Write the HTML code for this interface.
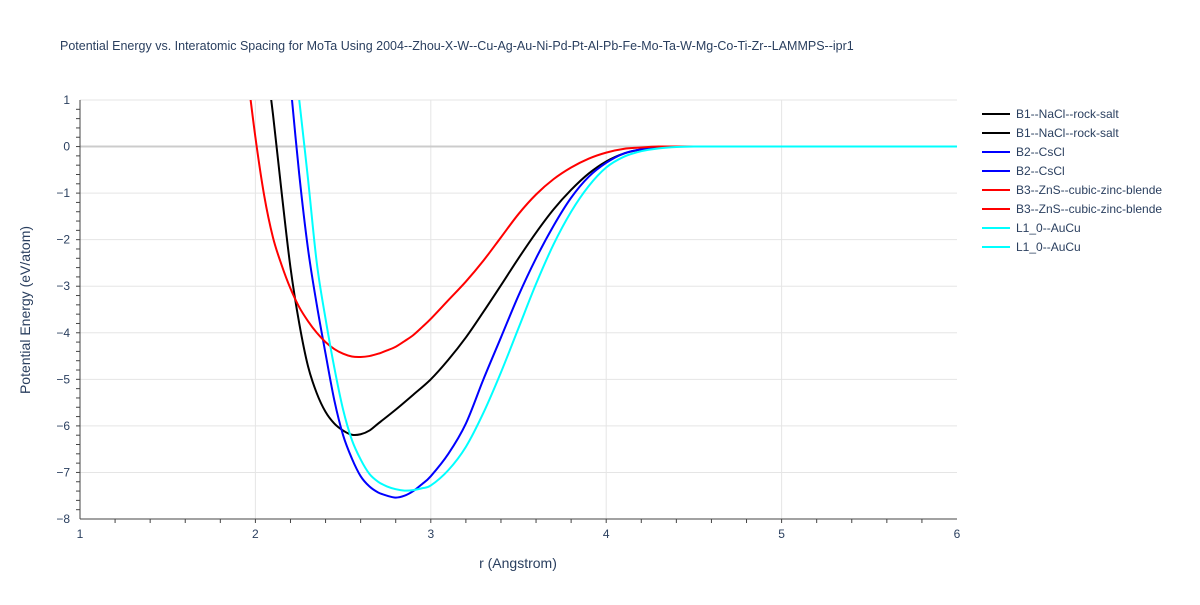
<!DOCTYPE html>
<html><head><meta charset="utf-8"><style>
body{margin:0;background:#fff;font-family:"Liberation Sans",sans-serif}
svg text{font-family:"Liberation Sans",sans-serif;fill:#2a3f5f}
</style></head><body>
<svg id="chart" width="1200" height="600" xmlns="http://www.w3.org/2000/svg">
<text x="60" y="50" font-size="12.5">Potential Energy vs. Interatomic Spacing for MoTa Using 2004--Zhou-X-W--Cu-Ag-Au-Ni-Pd-Pt-Al-Pb-Fe-Mo-Ta-W-Mg-Co-Ti-Zr--LAMMPS--ipr1</text>
<defs><clipPath id="clip"><rect x="80" y="100" width="877" height="419"/></clipPath></defs>
<g id="grid"></g><g id="axes"></g><g id="lines" clip-path="url(#clip)"></g><g id="legend"></g>
<text x="518" y="568" font-size="14" text-anchor="middle">r (Angstrom)</text>
<text transform="translate(30,310) rotate(-90)" font-size="14" text-anchor="middle">Potential Energy (eV/atom)</text>
</svg>
<script>
const xTicks=[1,2,3,4,5,6];
const yTicks=[1,0,-1,-2,-3,-4,-5,-6,-7,-8];
const seriesNames=["B1--NaCl--rock-salt","B2--CsCl","B3--ZnS--cubic-zinc-blende","L1_0--AuCu"];
const seriesColors=["#000000","#0000ff","#ff0000","#00ffff"];
const b1R=[2.05,2.1,2.15,2.2,2.25,2.3,2.35,2.4,2.45,2.5,2.55,2.6,2.65,2.7,2.8,2.9,3.0,3.1,3.2,3.3,3.4,3.5,3.6,3.7,3.8,3.9,4.0,4.1,4.2,4.3,4.4,4.5,4.6,4.7,4.8];
const b1E=[2.2,0.7,-1.0,-2.6,-3.8,-4.72,-5.3,-5.7,-5.95,-6.1,-6.19,-6.18,-6.1,-5.95,-5.65,-5.33,-5.0,-4.58,-4.1,-3.55,-2.98,-2.4,-1.85,-1.35,-0.93,-0.58,-0.32,-0.15,-0.06,-0.02,0,0,0,0,0];
const b2R=[2.2,2.25,2.3,2.35,2.4,2.45,2.5,2.55,2.6,2.65,2.7,2.75,2.8,2.85,2.9,2.95,3.0,3.1,3.2,3.3,3.4,3.5,3.6,3.7,3.8,3.9,4.0,4.1,4.2,4.3,4.4,4.5,4.6,4.7,4.8];
const b2E=[1.35,-0.6,-2.2,-3.4,-4.45,-5.45,-6.2,-6.7,-7.08,-7.3,-7.43,-7.5,-7.54,-7.5,-7.4,-7.25,-7.08,-6.6,-5.95,-5.0,-4.1,-3.2,-2.4,-1.7,-1.1,-0.65,-0.35,-0.15,-0.06,-0.02,0,0,0,0,0];
const b3R=[1.95,2.0,2.05,2.1,2.15,2.2,2.25,2.3,2.35,2.4,2.45,2.5,2.55,2.6,2.65,2.7,2.75,2.8,2.85,2.9,2.95,3.0,3.1,3.2,3.3,3.4,3.5,3.6,3.7,3.8,3.9,4.0,4.1,4.2,4.3,4.4,4.5,4.6,4.7];
const b3E=[1.7,0.2,-1.05,-1.95,-2.55,-3.05,-3.45,-3.75,-4.0,-4.2,-4.35,-4.45,-4.51,-4.52,-4.5,-4.45,-4.38,-4.3,-4.18,-4.05,-3.88,-3.7,-3.3,-2.9,-2.45,-1.95,-1.45,-1.03,-0.7,-0.45,-0.26,-0.13,-0.05,-0.02,0,0,0,0,0];
const l10R=[2.25,2.3,2.35,2.4,2.45,2.5,2.55,2.6,2.65,2.7,2.75,2.8,2.85,2.9,2.95,3.0,3.1,3.2,3.3,3.4,3.5,3.6,3.7,3.8,3.9,4.0,4.1,4.2,4.3,4.4,4.5,4.6,4.7,4.8];
const l10E=[1,-0.7,-2.5,-3.7,-4.75,-5.65,-6.3,-6.72,-7.03,-7.2,-7.3,-7.36,-7.39,-7.38,-7.34,-7.28,-6.95,-6.45,-5.72,-4.85,-3.9,-2.95,-2.1,-1.4,-0.85,-0.45,-0.22,-0.1,-0.04,-0.01,0,0,0,0];
const allR=[b1R,b2R,b3R,l10R], allE=[b1E,b2E,b3E,l10E];
const X=r=>80+(r-1)*(877/5), Y=e=>100+(1-e)*(419/9);
const NS="http://www.w3.org/2000/svg";
function mk(parent,tag,attrs){const el=document.createElementNS(NS,tag);for(const k in attrs)el.setAttribute(k,attrs[k]);document.getElementById(parent).appendChild(el);return el;}
xTicks.forEach(t=>{
 if(t>1&&t<6){const g=mk("grid","line",{x1:X(t),x2:X(t),y1:100,y2:519,stroke:"#e5e5e5"});
 
 }
 const l=mk("axes","text",{x:X(t),y:538,"font-size":12,"text-anchor":"middle"});l.textContent=t;
 
 
});
for(let v=1.2;v<6;v+=0.2){mk("axes","line",{x1:X(v),x2:X(v),y1:519,y2:523,stroke:"#444"});}
yTicks.forEach(t=>{
 const g=mk("grid","line",{x1:80,x2:957,y1:Y(t),y2:Y(t),stroke:t===0?"#ccc":"#e5e5e5","stroke-width":t===0?2:1});
 
 
 const l=mk("axes","text",{x:70,y:Y(t)+4,"font-size":12,"text-anchor":"end"});l.textContent=t===0?"0":(t<0?"\u2212"+(-t):t);
 
 
});
for(let v=0.8;v>-8;v-=0.2){mk("axes","line",{x1:76,x2:80,y1:Y(v),y2:Y(v),stroke:"#444"});}
mk("axes","line",{x1:80,x2:80,y1:100,y2:519,stroke:"#444"});
mk("axes","line",{x1:80,x2:957,y1:519,y2:519,stroke:"#444"});
function smooth(pts){
 let d="M"+pts[0][0]+","+pts[0][1];
 for(let i=0;i<pts.length-1;i++){
  const p0=pts[Math.max(0,i-1)],p1=pts[i],p2=pts[i+1],p3=pts[Math.min(pts.length-1,i+2)];
  const c1x=p1[0]+(p2[0]-p0[0])/6,c1y=p1[1]+(p2[1]-p0[1])/6;
  const c2x=p2[0]-(p3[0]-p1[0])/6,c2y=p2[1]-(p3[1]-p1[1])/6;
  d+=" C"+c1x+","+c1y+" "+c2x+","+c2y+" "+p2[0]+","+p2[1];
 }
 return d;
}
allR.forEach((rs,i)=>{
 const pts=rs.map((r,j)=>[X(r),Y(allE[i][j])]);
 pts.push([X(6),Y(0)]);
 const p=mk("lines","path",{d:smooth(pts),fill:"none",stroke:seriesColors[i],"stroke-width":2,"stroke-linejoin":"round"});
 
 
});
for(let k=0;k<8;k++){
 const i=Math.floor(k/2), y=114+k*19;
 const ln=mk("legend","line",{x1:982,x2:1010,y1:y,y2:y,stroke:seriesColors[i],"stroke-width":2});
 
 
 const t=mk("legend","text",{x:1016,y:y+4,"font-size":12});t.textContent=seriesNames[i];
 
 
}
</script>
</body></html>
